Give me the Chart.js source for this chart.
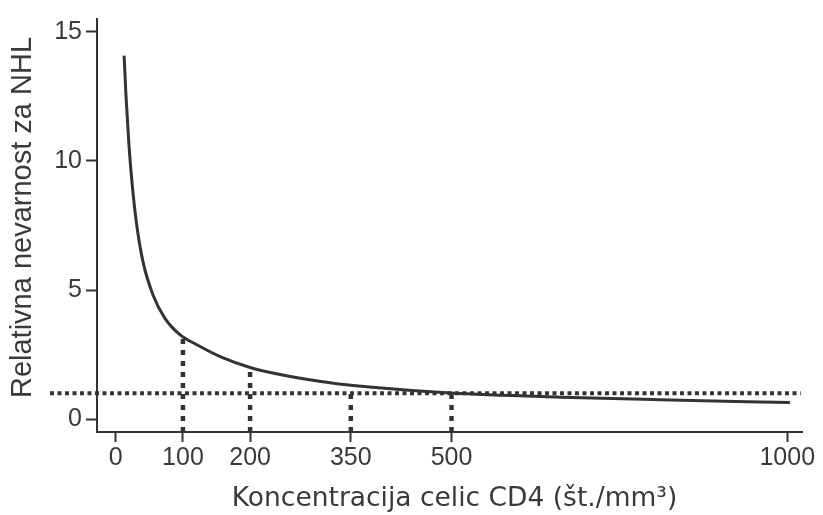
<!DOCTYPE html>
<html>
<head>
<meta charset="utf-8">
<script src="https://cdn.jsdelivr.net/npm/chart.js@4/dist/chart.umd.min.js"></script>
<style>
  html, body { margin: 0; padding: 0; background: #ffffff; }
  #wrap { width: 823px; height: 515px; position: relative; }
</style>
</head>
<body>
<div id="wrap"><canvas id="c" width="823" height="515"></canvas></div>
<script>
// ---- data ----
const cd4 = [12.4, 15.1, 19.5, 24.3, 30.8, 40.7, 55.6, 73, 95.4, 120, 159, 200, 254, 319, 378, 498, 662, 811, 1004];
const relRisk = [14.08, 12.56, 10.65, 9.12, 7.59, 6.07, 4.8, 3.91, 3.27, 2.89, 2.38, 2.0, 1.68, 1.41, 1.24, 1.01, 0.85, 0.75, 0.64];
const xTicks = [0, 100, 200, 350, 500, 1000];
const yTicks = [0, 5, 10, 15];
const refX = [100, 200, 350, 500];          // vertical dotted markers
const refTop = [3.1, 1.95, 1.0, 1.0];       // their heights
const refLevel = 1;                          // horizontal dotted line (RR = 1)
const refLineX = [-98, 1020];                // extent of the horizontal dotted line
const xRange = [-28, 1022];
const yRange = [-0.5, 15.5];
const xTitle = 'Koncentracija celic CD4 (št./mm³)';
const yTitle = 'Relativna nevarnost za NHL';

const ink = '#333333';
const textInk = '#3a3a3a';

const datasets = [];
datasets.push({
  data: cd4.map((x, i) => ({ x: x, y: relRisk[i] })),
  borderColor: ink,
  borderWidth: 3,
  pointRadius: 0,
  cubicInterpolationMode: 'monotone',
  fill: false
});
datasets.push({
  data: refLineX.map(x => ({ x: x, y: refLevel })),
  borderColor: ink,
  borderWidth: 4,
  borderDash: [4, 3.5],
  borderCapStyle: 'butt',
  pointRadius: 0,
  clip: false,
  fill: false
});
refX.forEach((x, i) => {
  datasets.push({
    data: [{ x: x, y: yRange[0] }, { x: x, y: refTop[i] }],
    borderColor: ink,
    borderWidth: 4.5,
    borderDash: [5, 6],
    borderCapStyle: 'butt',
    pointRadius: 0,
    clip: false,
    fill: false
  });
});

// shift an axis title by a few pixels (layout tweak)
function shiftTitle(dx, dy) {
  return s => {
    if (s._shifted) return;
    s._shifted = true;
    const orig = s.drawTitle;
    s.drawTitle = function () {
      const ctx = this.ctx;
      ctx.save();
      ctx.translate(dx, dy);
      orig.apply(this, arguments);
      ctx.restore();
    };
  };
}

new Chart(document.getElementById('c'), {
  type: 'line',
  data: { datasets: datasets },
  options: {
    responsive: false,
    animation: false,
    events: [],
    layout: { padding: { top: 12, right: 21, left: 0, bottom: 0 } },
    plugins: { legend: { display: false }, tooltip: { enabled: false } },
    scales: {
      x: {
        type: 'linear',
        min: xRange[0],
        max: xRange[1],
        afterBuildTicks: s => { s.ticks = xTicks.map(v => ({ value: v })); },
        afterFit: s => { s.height = 83; },
        afterUpdate: shiftTitle(5, 0),
        border: { display: true, color: ink, width: 2 },
        grid: { drawOnChartArea: false, drawTicks: true, tickLength: 10, tickWidth: 2, color: ink },
        ticks: {
          autoSkip: false, maxRotation: 0, padding: 1, color: textInk,
          font: { family: '"Liberation Sans", Arial, sans-serif', size: 25 },
          callback: v => String(v)
        },
        title: {
          display: true, text: xTitle, color: textInk,
          font: { family: '"DejaVu Sans", sans-serif', size: 26.5 },
          padding: { top: 0, bottom: 0 }
        }
      },
      y: {
        type: 'linear',
        min: yRange[0],
        max: yRange[1],
        afterBuildTicks: s => { s.ticks = yTicks.map(v => ({ value: v })); },
        afterFit: s => { s.width = 97; },
        afterUpdate: shiftTitle(0, -8),
        border: { display: true, color: ink, width: 2 },
        grid: { drawOnChartArea: false, drawTicks: true, tickLength: 11, tickWidth: 2, color: ink },
        ticks: {
          autoSkip: false, padding: 4, color: textInk,
          font: { family: '"Liberation Sans", Arial, sans-serif', size: 25 },
          callback: v => String(v)
        },
        title: {
          display: true, text: yTitle, color: textInk,
          font: { family: '"Liberation Sans", Arial, sans-serif', size: 29 },
          padding: { top: 6, bottom: 0 }
        }
      }
    }
  }
});
</script>
</body>
</html>
